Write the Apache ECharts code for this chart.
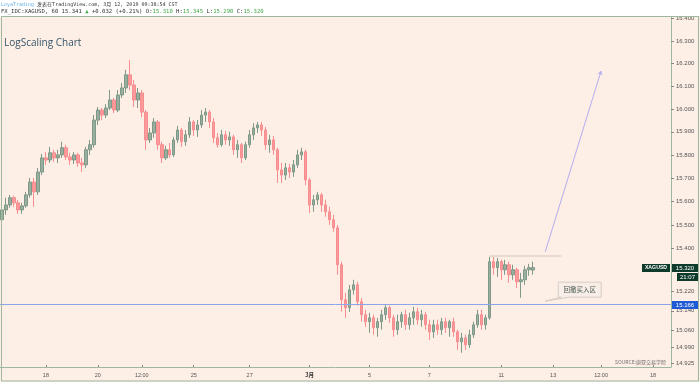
<!DOCTYPE html>
<html><head><meta charset="utf-8">
<script src="https://cdn.jsdelivr.net/npm/echarts@6/dist/echarts.min.js"></script>
<style>html,body{margin:0;padding:0;background:#fff}#c{width:700px;height:384px}</style>
</head><body><div id="c"></div>
<script>
// ---- data (prices, 4-hour style bars) ----
const opens = [15.522,15.564,15.585,15.616,15.594,15.564,15.581,15.628,15.683,15.641,
15.726,15.787,15.778,15.809,15.787,15.800,15.831,15.791,15.778,15.800,
15.765,15.757,15.822,15.844,15.951,15.995,15.973,16.004,16.039,15.995,
16.061,16.092,16.150,16.105,16.039,16.070,15.986,15.865,15.895,15.943,
15.844,15.787,15.822,15.800,15.865,15.908,15.857,15.887,15.943,15.908,
15.930,15.973,15.986,15.943,15.874,15.844,15.887,15.865,15.878,15.822,
15.844,15.787,15.844,15.887,15.917,15.930,15.908,15.844,15.865,15.822,
15.735,15.713,15.744,15.726,15.757,15.800,15.813,15.692,15.585,15.607,
15.628,15.585,15.556,15.522,15.488,15.332,15.186,15.153,15.227,15.248,
15.178,15.124,15.095,15.111,15.070,15.095,15.124,15.153,15.111,15.062,
15.095,15.124,15.082,15.111,15.136,15.103,15.124,15.082,15.053,15.082,
15.062,15.095,15.070,15.095,15.053,15.012,15.028,15.000,15.041,15.082,
15.124,15.082,15.111,15.345,15.320,15.345,15.311,15.332,15.290,15.311,
15.261,15.269,15.311,15.310];
const closes = [15.564,15.585,15.616,15.594,15.564,15.581,15.628,15.683,15.641,15.726,
15.787,15.778,15.809,15.787,15.800,15.831,15.791,15.778,15.800,15.765,
15.757,15.822,15.844,15.951,15.995,15.973,16.004,16.039,15.995,16.061,
16.092,16.150,16.105,16.039,16.070,15.986,15.865,15.895,15.943,15.844,
15.787,15.822,15.800,15.865,15.908,15.857,15.887,15.943,15.908,15.930,
15.973,15.986,15.943,15.874,15.844,15.887,15.865,15.878,15.822,15.844,
15.787,15.844,15.887,15.917,15.930,15.908,15.844,15.865,15.822,15.735,
15.713,15.744,15.726,15.757,15.800,15.813,15.692,15.585,15.607,15.628,
15.585,15.556,15.522,15.488,15.332,15.186,15.153,15.227,15.248,15.178,
15.124,15.095,15.111,15.070,15.095,15.124,15.153,15.111,15.062,15.095,
15.124,15.082,15.111,15.136,15.103,15.124,15.082,15.053,15.082,15.062,
15.095,15.070,15.095,15.053,15.012,15.028,15.000,15.041,15.082,15.124,
15.082,15.111,15.345,15.320,15.345,15.311,15.332,15.290,15.311,15.261,
15.269,15.311,15.320,15.320];
const lows = [15.479,15.543,15.573,15.577,15.547,15.547,15.573,15.616,15.577,15.628,
15.713,15.757,15.765,15.770,15.765,15.787,15.778,15.757,15.761,15.748,
15.726,15.744,15.800,15.831,15.930,15.951,15.960,15.995,15.982,15.986,
16.048,16.070,16.083,16.008,16.004,15.964,15.822,15.852,15.874,15.822,
15.765,15.778,15.787,15.791,15.852,15.835,15.839,15.874,15.882,15.878,
15.917,15.943,15.917,15.852,15.831,15.835,15.844,15.839,15.800,15.787,
15.765,15.778,15.831,15.865,15.895,15.882,15.822,15.809,15.800,15.679,
15.679,15.692,15.701,15.705,15.744,15.778,15.670,15.551,15.556,15.585,
15.556,15.535,15.500,15.471,15.290,15.136,15.111,15.136,15.207,15.161,
15.095,15.074,15.049,15.041,15.033,15.062,15.103,15.091,15.033,15.041,
15.070,15.062,15.062,15.082,15.082,15.074,15.062,15.020,15.028,15.041,
15.041,15.049,15.033,15.033,14.979,14.967,14.979,14.987,15.028,15.070,
15.062,15.062,15.103,15.290,15.281,15.269,15.290,15.256,15.269,15.235,
15.194,15.248,15.286,15.290];
const highs = [15.607,15.616,15.628,15.624,15.607,15.594,15.641,15.701,15.701,15.744,
15.804,15.813,15.835,15.822,15.822,15.857,15.844,15.809,15.813,15.809,
15.787,15.835,15.865,15.973,16.008,16.004,16.021,16.083,16.048,16.083,
16.114,16.172,16.216,16.127,16.092,16.083,15.995,15.917,15.960,15.951,
15.857,15.839,15.852,15.878,15.926,15.917,15.908,15.964,15.951,15.951,
15.995,16.004,15.995,15.960,15.895,15.908,15.904,15.900,15.887,15.865,
15.852,15.857,15.908,15.938,15.943,15.943,15.921,15.887,15.882,15.831,
15.765,15.765,15.761,15.778,15.822,15.831,15.822,15.701,15.628,15.641,
15.637,15.607,15.577,15.543,15.500,15.345,15.215,15.248,15.269,15.261,
15.194,15.144,15.132,15.124,15.111,15.144,15.165,15.161,15.124,15.124,
15.136,15.144,15.132,15.157,15.153,15.144,15.136,15.103,15.103,15.103,
15.111,15.111,15.103,15.111,15.062,15.049,15.041,15.062,15.095,15.144,
15.144,15.124,15.366,15.366,15.361,15.353,15.353,15.345,15.332,15.320,
15.298,15.328,15.336,15.345];

const slotCount = 168;   // bar slots on the time axis (incl. future space)
const xTickLabels = {11:'18', 24:'20', 35:'12:00', 48:'25', 62:'27', 77:'3月', 92:'5', 107:'7', 125:'11', 138:'13', 150:'12:00', 163:'18'};
const boldTickLabels = ['3月'];
const yTickLabels = [16.400,16.300,16.200,16.100,16.000,15.900,15.800,15.700,15.600,15.500,15.400,15.220,15.140,15.060,14.990,14.925];
const yRange = [14.909, 16.412];
const supportLevel = 15.166;
const lastPrice = 15.320;
const rangeTop = 15.369;
const rangeTopSpan = [122, 140];
const targetLine = [[136, 15.386], [150, 16.167]];

// ---- chart ----
const toLn = v => Math.log(v);
const categories = Array.from({length: slotCount}, (_, i) => String(i));
const candleData = opens.map((o, i) => [toLn(o), toLn(closes[i]), toLn(lows[i]), toLn(highs[i])]);
const fmt = v => Math.exp(v).toFixed(3);
const border = '#9db89f';
const bg = '#fdeee6';

const chart = echarts.init(document.getElementById('c'), null, {renderer: 'canvas'});
chart.setOption({
  animation: false,
  backgroundColor: bg,
  grid: {left: 0, right: 29, top: 16, bottom: 17, outerBoundsMode: 'none', containLabel: false},
  xAxis: {
    type: 'category', data: categories, boundaryGap: true,
    axisLine: {show: true, lineStyle: {color: border, width: 1}},
    axisTick: {show: true, inside: true, length: 2, alignWithLabel: true,
      interval: i => xTickLabels[i] !== undefined, lineStyle: {color: '#888'}},
    axisLabel: {
      interval: i => xTickLabels[i] !== undefined,
      formatter: (v, i) => {
        const t = xTickLabels[i] || '';
        return boldTickLabels.includes(t) ? '{b|' + t + '}' : t;
      },
      fontSize: 5.5, color: '#555', margin: 5, fontFamily: 'Liberation Sans, Arial, sans-serif',
      rich: {b: {fontWeight: 'bold', fontSize: 5.5, color: '#333', fontFamily: 'Noto Sans CJK SC, sans-serif'}}
    },
    splitLine: {show: false}
  },
  yAxis: {
    type: 'value', position: 'right', min: toLn(yRange[0]), max: toLn(yRange[1]),
    axisLine: {show: true, lineStyle: {color: border, width: 1}},
    axisTick: {show: true, length: 3, customValues: yTickLabels.map(toLn), lineStyle: {color: '#888'}},
    axisLabel: {customValues: yTickLabels.map(toLn), formatter: fmt, fontSize: 6, color: '#555', margin: 5,
      fontFamily: 'Liberation Sans, Arial, sans-serif'},
    splitLine: {show: false}
  },
  series: [{
    type: 'candlestick', data: candleData, barWidth: 3,
    itemStyle: {color: '#98ae9f', color0: '#fb9a9a', borderColor: '#7f9989', borderColor0: '#f88d90', borderWidth: 1},
    markLine: {
      silent: true, symbol: 'none', animation: false, label: {show: false},
      data: [
        [{coord: [rangeTopSpan[0], toLn(rangeTop)], lineStyle: {color: '#e8dacd', width: 2, type: 'solid'}},
         {coord: [rangeTopSpan[1], toLn(rangeTop)]}],
        [{coord: [targetLine[0][0], toLn(targetLine[0][1])], symbol: 'none', lineStyle: {color: '#b4adf3', width: 1, type: 'solid'}},
         {coord: [targetLine[1][0], toLn(targetLine[1][1])], symbol: 'arrow', symbolSize: 4}]
      ]
    }
  }]
});

// ---- annotations anchored to the axes ----
const yPx = v => chart.convertToPixel({yAxisIndex: 0}, toLn(v));
const pLast = Math.round(yPx(lastPrice));
const pSupRaw = yPx(supportLevel);
const pSup = Math.round(pSupRaw);
const anchor = chart.convertToPixel({gridIndex: 0}, [136, toLn(15.18)]);
const dark = '#0d3a2b';
const txt = (x, y, s, extra) => Object.assign({type: 'text', z: 120, x, y,
  style: Object.assign({text: s, fill: '#fff', fontSize: 5.5, fontFamily: 'Liberation Sans, Arial, sans-serif',
    align: 'center', verticalAlign: 'middle'}, extra || {})});
const box = (x, y, w, h, fill) => ({type: 'rect', z: 110, shape: {x, y, width: w, height: h}, style: {fill}});
const bx = anchor[0] + 13, by = anchor[1] - 19;
chart.setOption({
  graphic: [
    {type: 'line', z: 5, shape: {x1: 0, y1: Math.floor(pSupRaw) + 0.5, x2: 671, y2: Math.floor(pSupRaw) + 0.5},
      style: {stroke: '#8aa4ee', lineWidth: 1}},
    box(0, 0, 700, 16, '#ffffff'),
    box(0, 382, 700, 2, '#ffffff'),
    {type: 'rect', z: 115, shape: {x: 1.5, y: 16.5, width: 697, height: 364.5},
      style: {fill: 'none', stroke: border, lineWidth: 1}},
    txt(1, 4.5, '{b|LoyaTrading} 发表在TradingView.com, 3月 12, 2019 09:38:54 CST',
      {fill: '#333', align: 'left', fontSize: 5, fontFamily: 'DejaVu Sans Mono, Noto Sans CJK SC, monospace',
       rich: {b: {fill: '#62aee6', fontSize: 5, fontFamily: 'DejaVu Sans Mono, monospace'}}}),
    txt(1, 11.5, 'FX_IDC:XAGUSD, 60 15.341 {g|▲} +0.032 (+0.21%) O:{g|15.310} H:{g|15.345} L:{g|15.290} C:{g|15.320}',
      {fill: '#333', align: 'left', fontSize: 5.6, fontFamily: 'DejaVu Sans Mono, monospace',
       rich: {g: {fill: '#43a747', fontSize: 5.6, fontFamily: 'DejaVu Sans Mono, monospace'}}}),
    txt(4, 43, 'LogScaling Chart', {fill: '#35566a', align: 'left', fontSize: 10, fontFamily: 'Open Sans, sans-serif'}),
    txt(666, 362, 'SOURCE:旗亚交易学院', {fill: '#6f6f6f', align: 'right', fontSize: 5, fontFamily: 'Noto Sans CJK SC, sans-serif'}),
    box(642, pLast - 4, 28, 8, dark),
    txt(656, pLast, 'XAGUSD', {fontWeight: 'bold', fontSize: 5.2}),
    box(672, pLast - 4, 26, 8, dark),
    txt(685, pLast, lastPrice.toFixed(3), {fontSize: 6}),
    box(677, pLast + 5, 21, 8, dark),
    txt(687.5, pLast + 9, '21:07', {fontSize: 6}),
    box(672, pSup - 4, 26, 8, '#1f5ad6'),
    txt(685, pSup, supportLevel.toFixed(3), {fontSize: 6}),
    {type: 'polygon', z: 112,
      shape: {points: [[bx, by], [bx + 43, by], [bx + 43, by + 15], [bx + 11, by + 15], [anchor[0], anchor[1]], [bx + 3, by + 15], [bx, by + 15]]},
      style: {fill: '#f8ede7', stroke: '#d6cdc6', lineWidth: 1}},
    txt(bx + 21.5, by + 7.5, '回撤买入区', {fill: '#4a5c51', fontSize: 6.5, fontFamily: 'Noto Sans CJK SC, sans-serif'})
  ]
});
</script></body></html>
